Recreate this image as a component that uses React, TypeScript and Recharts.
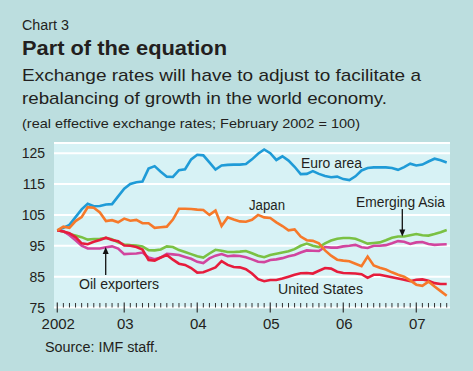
import React from 'react';
import { LineChart, Line, XAxis, YAxis, CartesianGrid } from 'recharts';

// Monthly, Feb 2002 (index 0) .. Jun 2007 (index 64)
const euroArea = [
  100, 100.8, 101.8, 104.3, 106.8, 108.6, 107.8, 107.9, 108.4, 108.5,
  111, 113.5, 115, 115.6, 115.8, 120, 120.8, 119, 117.4, 117.3,
  119.5, 119.8, 123, 124.5, 124.3, 122, 119.7, 121, 121.2, 121.3,
  121.3, 121.5, 123, 124.8, 126.2, 125, 122.8, 124, 122.6, 120.6,
  118.2, 118.3, 119.2, 118.3, 117.6, 117.2, 117.4, 116.6, 116.3, 117.5,
  119.4, 120.2, 120.4, 120.4, 120.4, 120.2, 119.6, 120.5, 121.6, 121,
  121.3, 122.3, 123.2, 122.7, 122,
];
const japan = [
  100, 101.2, 100.8, 103, 104.3, 107.5, 107.3, 105.8, 103, 103.3,
  102.6, 103.8, 103.1, 103.4, 102.3, 102.3, 100.8, 101, 101.2, 103.5,
  107, 107, 106.9, 106.7, 106.6, 105, 106.4, 101.4, 104.2, 103.5,
  102.9, 102.8, 103.4, 105, 104.2, 104, 102.6, 101.4, 100, 100.3,
  98, 96.8, 96.6, 95.8, 93.5, 91.8, 90.5, 90.2, 90, 89.2,
  88.4, 91.5, 88.6, 87.9, 87.3, 86.4, 85.6, 85, 83.8, 82.4,
  82, 83.4, 81.8, 80.3, 78.8,
];
const emergingAsia = [
  100, 99.6, 98.8, 98.3, 97.8, 97, 97.2, 97.3, 97.5, 97.1,
  96.1, 95.4, 95.2, 95.1, 94.8, 93.6, 93.5, 93.8, 94.8, 94.6,
  93.6, 93, 92.3, 91.6, 91.2, 92.5, 93.7, 93.4, 93, 93,
  93.1, 93.3, 92.6, 91.8, 91.3, 92, 92.4, 92.8, 93.2, 93.9,
  95, 95.7, 95, 94.6, 95.8, 96.7, 97.3, 97.5, 97.5, 97.3,
  96.5, 95.7, 95.9, 96.1, 96.8, 97.6, 98, 98, 98.4, 98.8,
  98.4, 98.3, 98.8, 99.4, 100.1,
];
const oilExporters = [
  100, 99.7, 98.4, 96.8, 95, 94.1, 94.1, 94.1, 94.5, 94.8,
  94.1, 92.3, 92.4, 92.5, 92.8, 91.2, 90.6, 91.2, 92.4, 92.2,
  92, 91.4, 90.8, 89.8, 89.4, 90.9, 91.8, 92.3, 91.6, 91.8,
  91.7, 91.3, 90.6, 89.8, 89.7, 90.4, 90.6, 91, 91.6, 92,
  92.8, 93.5, 93.4, 93.3, 94.6, 94.4, 94.4, 94.8, 95, 95.3,
  94.5, 94.3, 95, 95, 95.2, 95.8, 96.5, 96.3, 95.6, 96.1,
  96.2, 95.6, 95.3, 95.4, 95.5,
];
const unitedStates = [
  100, 99.6, 99.1, 97.8, 95.8, 95.5, 96.3, 96.9, 97.6, 96.9,
  96.5, 95.1, 95, 94.6, 93.8, 90.4, 90.2, 91.2, 92, 90.5,
  89.2, 88.8, 87.8, 86.3, 86.4, 87.2, 88, 90, 88.8, 88.1,
  88, 87.4, 86, 84.2, 83.5, 83.9, 83.9, 84.4, 85, 85.6,
  86.1, 86.2, 86, 86.9, 87.8, 87.6, 86.6, 86.2, 86.1, 86,
  85.8, 84.6, 85.6, 85.6, 85.2, 84.8, 84.4, 84, 83.5, 84,
  84.1, 83.7, 82.9, 82.6, 82.6,
];

const majorTicks = [0, 11, 23, 35, 47, 59];
const xTickLabels = ['2002', '03', '04', '05', '06', '07'];
const yTicks = [75, 85, 95, 105, 115, 125];

const data = euroArea.map((v, i) => ({
  i,
  euro: v,
  japan: japan[i],
  asia: emergingAsia[i],
  oil: oilExporters[i],
  us: unitedStates[i],
}));
const allTicks = data.map((d) => d.i);

const FONT = '"Liberation Sans", Arial, sans-serif';
const INK = '#231f20';

const XTick = (props: any) => {
  const { x, y, payload } = props;
  const k = majorTicks.indexOf(payload.value);
  if (k >= 0) {
    return (
      <g>
        <line x1={x} x2={x} y1={y - 5} y2={y + 5} stroke="#333" strokeWidth={1.2} />
        <text x={x + 1} y={y + 21} textAnchor="middle" fontSize={15} fill={INK} fontFamily={FONT}>
          {xTickLabels[k]}
        </text>
      </g>
    );
  }
  return <line x1={x} x2={x} y1={y - 4.5} y2={y} stroke="#333" strokeWidth={1} />;
};

const YTick = (props: any) => {
  const { x, y, payload } = props;
  return (
    <text x={x} y={y} dy="0.36em" textAnchor="end" fontSize={14} fill={INK} fontFamily={FONT}>
      {payload.value}
    </text>
  );
};

export default function App() {
  return (
    <div
      style={{
        position: 'absolute',
        left: 0,
        top: 0,
        width: 473,
        height: 371,
        background: '#bcdedf',
        overflow: 'hidden',
      }}
    >
      <LineChart
        width={473}
        height={371}
        data={data}
        margin={{ top: 143, right: 23, bottom: 33.5, left: 0 }}
      >
        <CartesianGrid
          vertical={false}
          horizontal={true}
          stroke="#ffffff"
          strokeWidth={2}
          fill="#d7f2f5"
          fillOpacity={1}
        />
        <XAxis
          dataKey="i"
          type="number"
          domain={[-0.54, 64.54]}
          ticks={allTicks}
          interval={0}
          tick={<XTick />}
          tickLine={false}
          axisLine={false}
          tickSize={0}
          tickMargin={0}
          height={30}
          allowDataOverflow
        />
        <YAxis
          type="number"
          domain={[75, 128.3]}
          ticks={yTicks}
          interval={0}
          tick={<YTick />}
          tickLine={false}
          axisLine={false}
          tickSize={0}
          tickMargin={9}
          width={54}
          allowDataOverflow
        />
        <Line dataKey="euro" stroke="#1f9bd7" strokeWidth={2.6} dot={false} isAnimationActive={false} />
        <Line dataKey="asia" stroke="#7ac143" strokeWidth={2.6} dot={false} isAnimationActive={false} />
        <Line dataKey="oil" stroke="#d1459e" strokeWidth={2.6} dot={false} isAnimationActive={false} />
        <Line dataKey="us" stroke="#e61c3c" strokeWidth={2.6} dot={false} isAnimationActive={false} />
        <Line dataKey="japan" stroke="#f6792a" strokeWidth={2.6} dot={false} isAnimationActive={false} />
      </LineChart>
      <svg
        width={473}
        height={371}
        style={{ position: 'absolute', left: 0, top: 0, pointerEvents: 'none' }}
        fontFamily={FONT}
        fill={INK}
      >
        <text x={22} y={30} fontSize={14} textLength={47} lengthAdjust="spacingAndGlyphs">Chart 3</text>
        <text x={22} y={55} fontSize={20} fontWeight="bold" textLength={205} lengthAdjust="spacingAndGlyphs">
          Part of the equation
        </text>
        <text x={22} y={81} fontSize={17} textLength={399} lengthAdjust="spacingAndGlyphs">
          Exchange rates will have to adjust to facilitate a
        </text>
        <text x={22} y={104} fontSize={17} textLength={365} lengthAdjust="spacingAndGlyphs">
          rebalancing of growth in the world economy.
        </text>
        <text x={22} y={128} fontSize={13.5} textLength={338} lengthAdjust="spacingAndGlyphs">
          (real effective exchange rates; February 2002 = 100)
        </text>

        <text x={301} y={168} fontSize={14} textLength={61} lengthAdjust="spacingAndGlyphs">Euro area</text>
        <text x={249} y={210} fontSize={14} textLength={36} lengthAdjust="spacingAndGlyphs">Japan</text>
        <text x={356} y={206.5} fontSize={14} textLength={89} lengthAdjust="spacingAndGlyphs">Emerging Asia</text>
        <text x={278} y={294} fontSize={14} textLength={85} lengthAdjust="spacingAndGlyphs">United States</text>
        <text x={79} y={289} fontSize={14} textLength={80} lengthAdjust="spacingAndGlyphs">Oil exporters</text>

        <line x1={105.7} x2={105.7} y1={275} y2={252} stroke="#111" strokeWidth={1.3} />
        <polygon points="105.7,247 102.7,254 108.7,254" fill="#111" />
        <line x1={402.3} x2={402.3} y1={209} y2={231} stroke="#111" strokeWidth={1.3} />
        <polygon points="402.3,236.5 399.3,229.5 405.3,229.5" fill="#111" />

        <text x={45} y={352} fontSize={14} textLength={113} lengthAdjust="spacingAndGlyphs">Source: IMF staff.</text>
      </svg>
    </div>
  );
}
